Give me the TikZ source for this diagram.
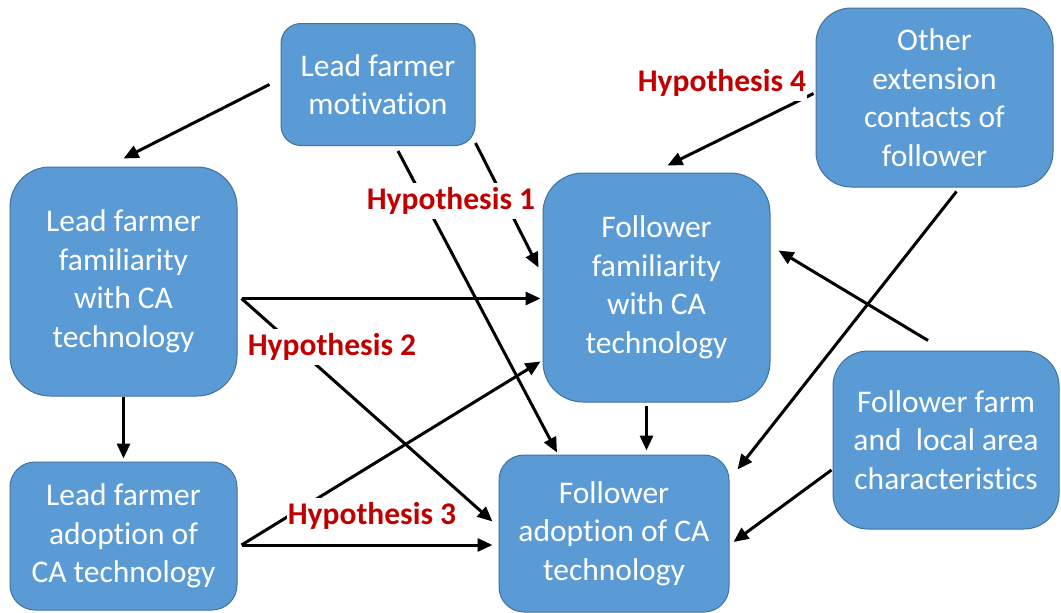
\documentclass[tikz,border=0pt]{standalone}
\usepackage{fontspec}
\setmainfont[RawFeature={-liga;-clig;-dlig;-calt}]{Carlito}
\usetikzlibrary{arrows.meta}
\definecolor{boxblue}{HTML}{5B9BD5}
\definecolor{boxedge}{HTML}{41719C}
\definecolor{hypred}{HTML}{C00000}
\tikzset{
  box/.style={draw=boxedge, line width=1pt, fill=boxblue, text=white,
    align=center, inner sep=0pt, font=\fontsize{31.5}{38.5}\selectfont},
  arr/.style={line width=3pt, -{Triangle[length=15pt,width=13pt]}},
  hyp/.style={fill=white, text=hypred, inner xsep=1pt, inner ysep=4pt,
    font=\fontsize{31.5}{36}\selectfont\bfseries}
}
\begin{document}
\begin{tikzpicture}[x=1pt,y=-1pt]
\useasboundingbox[fill=white] (0,0) rectangle (1061,613);
% boxes
\node[box, minimum width=194pt, minimum height=122pt, rounded corners=20pt] (mot) at (378,84.5) {Lead farmer\\motivation};
\node[box, minimum width=227pt, minimum height=229pt, rounded corners=40pt] (lff) at (123.5,281.5) {Lead farmer\\familiarity\\with CA\\technology};
\node[box, minimum width=227pt, minimum height=148pt, rounded corners=25pt] (lfa) at (123.5,536) {Lead farmer\\adoption of\\CA technology};
\node[box, minimum width=227pt, minimum height=229pt, rounded corners=40pt] (ffa) at (656.5,287.5) {Follower\\familiarity\\with CA\\technology};
\node[box, minimum width=230pt, minimum height=157pt, rounded corners=25pt] (fad) at (614,533.5) {Follower\\adoption of CA\\technology};
\node[box, minimum width=237pt, minimum height=179pt, rounded corners=35pt] (oth) at (934.5,97.5) {Other\\extension\\contacts of\\follower};
\node[box, minimum width=226pt, minimum height=178pt, rounded corners=35pt] (ffc) at (946,440) {Follower farm\\and\ \ local area\\characteristics};
% anchor points
\coordinate (p4) at ([xshift=4pt,yshift=-17pt]lff.east);
\coordinate (p7) at ([xshift=4pt,yshift=-9pt]lfa.east);
\coordinate (p9) at ([xshift=-10pt,yshift=-3pt]ffa.south);
% connectors
\draw[arr] ([xshift=-11pt]mot.west) -- ([yshift=8pt]lff.north);
\draw[arr] ([xshift=20pt,yshift=-5pt]mot.south) -- ([xshift=-57pt,yshift=2pt]fad.north);
\draw[arr] ([yshift=3pt]mot.south east) -- ([xshift=-4pt,yshift=20pt]ffa.west);
\draw[arr, shorten >=2pt] (p4) -- (p4 -| ffa.west);
\draw[arr] (p4) -- ([xshift=-6pt,yshift=12pt]fad.west);
\draw[arr, shorten >=3pt] (lff.south) -- (lfa.north);
\draw[arr, shorten >=6pt] (p7) -- (p7 -| fad.west);
\draw[arr] (p7) -- ([xshift=-2pt,yshift=-74pt]ffa.west);
\draw[arr, shorten >=4pt] (p9) -- (p9 |- fad.north);
\draw[arr] ([xshift=-2pt,yshift=4pt]oth.west) -- ([xshift=11pt,yshift=7pt]ffa.north);
\draw[arr] ([xshift=22pt,yshift=-4pt]oth.south) -- ([xshift=8pt,yshift=-15pt]fad.north east);
\draw[arr] ([xshift=-18pt,yshift=10pt]ffc.north) -- ([xshift=8pt,yshift=37pt]ffa.east);
\draw[arr] ([xshift=-1pt,yshift=-30pt]ffc.west) -- ([xshift=4pt,yshift=-8.5pt]fad.east);
% labels
\node[hyp] (h1) at (451,201) {Hypothesis 1};
\node[hyp] (h2) at (332,347) {Hypothesis 2};
\node[hyp] (h3) at (372,516) {Hypothesis 3};
\node[hyp] (h4) at (722,83) {Hypothesis 4};
\end{tikzpicture}
\end{document}
